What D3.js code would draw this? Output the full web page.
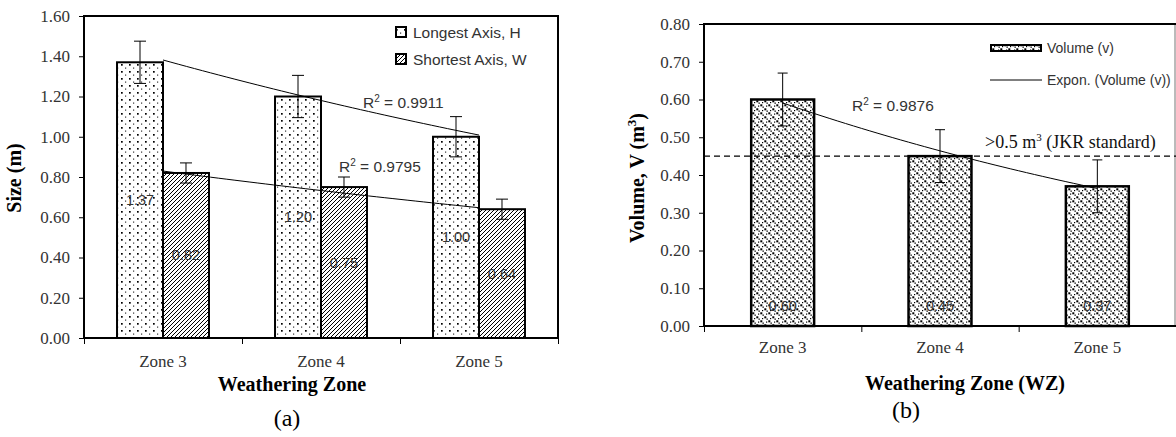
<!doctype html>
<html>
<head>
<meta charset="utf-8">
<title>Block size by weathering zone</title>
<script src="https://d3js.org/d3.v7.min.js"></script>
<style>
  body { margin: 0; background: #fff; }
  .serif { font-family: "Liberation Serif", "Times New Roman", serif; }
  .sans { font-family: "Liberation Sans", Arial, sans-serif; }
</style>
</head>
<body>
<div id="chart"></div>
<script>
// ---- data ----
const zones = ["Zone 3", "Zone 4", "Zone 5"]
const longestAxis = [1.37, 1.20, 1.00]
const longestErr = [0.105, 0.105, 0.10]
const shortestAxis = [0.82, 0.75, 0.64]
const shortestErr = [0.05, 0.05, 0.05]
const sizeR2 = ["0.9911", "0.9795"]
const volume = [0.60, 0.45, 0.37]
const volumeErr = [0.07, 0.07, 0.07]
const volumeR2 = "0.9876"
const jkrLevel = 0.45

const W = 1176, H = 437
const svg = d3.select('#chart').append('svg')
    .attr('width', W).attr('height', H)

// patterns
const defs = svg.append('defs')
const pDots = defs.append('pattern').attr('id', 'dotsH')
    .attr('patternUnits', 'userSpaceOnUse').attr('width', 8).attr('height', 7)
pDots.append('rect').attr('width', 8).attr('height', 7).attr('fill', '#fff')
pDots.append('rect').attr('x', 1).attr('y', 1).attr('width', 1.7).attr('height', 1.7).attr('fill', '#000')
pDots.append('rect').attr('x', 5).attr('y', 4.5).attr('width', 1.2).attr('height', 1.2).attr('fill', '#333')

const pHatch = defs.append('pattern').attr('id', 'hatchW')
    .attr('patternUnits', 'userSpaceOnUse').attr('width', 4).attr('height', 4)
pHatch.append('rect').attr('width', 4).attr('height', 4).attr('fill', '#fff')
pHatch.append('path').attr('d', 'M-1,1 l2,-2 M0,4 l4,-4 M3,5 l2,-2')
    .attr('stroke', '#000').attr('stroke-width', 1)

const pConf = defs.append('pattern').attr('id', 'dotsV')
    .attr('patternUnits', 'userSpaceOnUse').attr('width', 8).attr('height', 8)
pConf.append('rect').attr('width', 8).attr('height', 8).attr('fill', '#fff')
;[[0.3, 0.3, 2], [4.3, 4.3, 2], [2.5, 2.5, 1.3], [6.5, 6.5, 1.3], [6, 1.5, 1.2], [2, 6, 1.2]].forEach(d => {
    pConf.append('rect').attr('x', d[0]).attr('y', d[1]).attr('width', d[2]).attr('height', d[2]).attr('fill', '#000')
})

// exponential fit y = a*e^(b*x), x = 1..n
const expFit = ys => {
    const xs = ys.map((d, i) => i + 1)
    const ls = ys.map(Math.log)
    const mx = d3.mean(xs), ml = d3.mean(ls)
    const b = d3.sum(xs, (x, i) => (x - mx) * (ls[i] - ml)) / d3.sum(xs, x => (x - mx) ** 2)
    const a = Math.exp(ml - b * mx)
    return x => a * Math.exp(b * x)
}

const trend = (g, x0, y, ys) => {
    const f = expFit(ys)
    const pos = d3.scaleLinear().domain([1, ys.length])
        .range([x0(zones[0]) + x0.bandwidth() / 2, x0(zones[ys.length - 1]) + x0.bandwidth() / 2])
    const pts = d3.range(1, ys.length + 0.001, 0.05).map(t => [pos(t), y(f(t))])
    g.append('path').attr('d', d3.line()(pts))
        .attr('fill', 'none').attr('stroke', '#000').attr('stroke-width', 1)
}

const errBar = (g, cx, y, v, e, cap) => {
    g.append('line').attr('x1', cx).attr('x2', cx).attr('y1', y(v + e)).attr('y2', y(v - e))
        .attr('stroke', '#000')
    ;[v + e, v - e].forEach(t => g.append('line').attr('x1', cx - cap).attr('x2', cx + cap)
        .attr('y1', y(t)).attr('y2', y(t)).attr('stroke', '#000'))
}

const serifFont = '"Liberation Serif", "Times New Roman", serif'
const styleAxis = (g, size) => {
    g.selectAll('path.domain').remove()
    g.selectAll('line').attr('stroke', '#000')
    g.attr('font-family', serifFont)
    g.selectAll('text').style('font-family', serifFont).attr('font-size', size).attr('fill', '#333')
}

// ================= panel (a) =================
{
    const L = 84, R = 558, T = 16, B = 338
    const x0 = d3.scaleBand().domain(zones).range([L, R]).paddingInner(0.418).paddingOuter(0.209)
    const x1 = d3.scaleBand().domain(['H', 'W']).range([0, x0.bandwidth()])
    const y = d3.scaleLinear().domain([0, 1.6]).range([B, T])
    const g = svg.append('g')

    g.append('g').attr('transform', `translate(${L},0)`)
        .call(d3.axisLeft(y).tickValues(d3.range(0, 1.61, 0.2)).tickFormat(d3.format('.2f')).tickSize(5).tickPadding(9))
        .call(a => styleAxis(a, 17))

    const xb = d3.scaleLinear().domain([0, 3]).range([L, R])
    g.append('g').attr('transform', `translate(0,${B})`)
        .call(d3.axisBottom(xb).ticks(3).tickFormat('').tickSize(6))
        .call(a => styleAxis(a, 16))
    g.append('g').attr('transform', `translate(0,${B})`)
        .call(d3.axisBottom(x0).tickSize(0).tickPadding(17))
        .call(a => styleAxis(a, 17))

    const series = [
        { key: 'H', vals: longestAxis, err: longestErr, fill: 'url(#dotsH)' },
        { key: 'W', vals: shortestAxis, err: shortestErr, fill: 'url(#hatchW)' }
    ]
    series.forEach(s => {
        g.selectAll(null).data(zones).join('rect')
            .attr('x', z => x0(z) + x1(s.key)).attr('width', x1.bandwidth())
            .attr('y', (z, i) => y(s.vals[i])).attr('height', (z, i) => B - y(s.vals[i]))
            .attr('fill', s.fill).attr('stroke', '#000').attr('stroke-width', 2)
    })
    series.forEach(s => trend(g, x0, y, s.vals))
    series.forEach(s => zones.forEach((z, i) =>
        errBar(g, x0(z) + x1(s.key) + x1.bandwidth() / 2, y, s.vals[i], s.err[i], 6)))
    series.forEach(s => {
        g.selectAll(null).data(zones).join('text')
            .attr('class', 'sans').attr('font-size', 14.5).attr('fill', '#333')
            .attr('text-anchor', 'middle').attr('dominant-baseline', 'central')
            .attr('x', z => x0(z) + x1(s.key) + x1.bandwidth() / 2)
            .attr('y', (z, i) => y(s.vals[i] / 2))
            .text((z, i) => s.vals[i].toFixed(2))
    })

    g.append('rect').attr('x', L).attr('y', T).attr('width', R - L).attr('height', B - T)
        .attr('fill', 'none').attr('stroke', '#000').attr('stroke-width', 2)

    // R² labels
    const r2 = [[363, 108, sizeR2[0]], [339, 172, sizeR2[1]]]
    r2.forEach(d => {
        const t = g.append('text').attr('class', 'sans').attr('font-size', 15.5).attr('fill', '#333')
            .attr('x', d[0]).attr('y', d[1])
        t.append('tspan').text('R')
        t.append('tspan').attr('font-size', 10).attr('dy', -6).text('2')
        t.append('tspan').attr('dy', 6).text(' = ' + d[2])
    })

    // legend
    const leg = g.append('g').attr('transform', 'translate(395,0)')
    ;[['Longest Axis, H', 'url(#dotsH)', 32], ['Shortest Axis, W', 'url(#hatchW)', 59]].forEach(d => {
        leg.append('rect').attr('x', 1).attr('y', d[2] - 5).attr('width', 10).attr('height', 10)
            .attr('fill', d[1]).attr('stroke', '#000').attr('stroke-width', 2)
        leg.append('text').attr('class', 'sans').attr('font-size', 15.5).attr('fill', '#333')
            .attr('x', 18).attr('y', d[2]).attr('dominant-baseline', 'central').text(d[0])
    })

    g.append('text').attr('class', 'serif').attr('font-weight', 'bold').attr('font-size', 20)
        .attr('text-anchor', 'middle').attr('x', 292).attr('y', 391).text('Weathering Zone')
    g.append('text').attr('class', 'serif').attr('font-weight', 'bold').attr('font-size', 20)
        .attr('text-anchor', 'middle').attr('transform', 'translate(21,178) rotate(-90)').text('Size (m)')
    g.append('text').attr('class', 'serif').attr('font-size', 24)
        .attr('text-anchor', 'middle').attr('x', 287).attr('y', 426).text('(a)')
}

// ================= panel (b) =================
{
    const L = 704, R = 1176, T = 24, B = 326
    const x0 = d3.scaleBand().domain(zones).range([L, R]).paddingInner(0.6).paddingOuter(0.3)
    const y = d3.scaleLinear().domain([0, 0.8]).range([B, T])
    const g = svg.append('g')

    g.append('g').attr('transform', `translate(${L},0)`)
        .call(d3.axisLeft(y).tickValues(d3.range(0, 0.801, 0.1)).tickFormat(d3.format('.2f')).tickSize(5).tickPadding(9))
        .call(a => styleAxis(a, 17))

    const xb = d3.scaleLinear().domain([0, 3]).range([L, R])
    g.append('g').attr('transform', `translate(0,${B})`)
        .call(d3.axisBottom(xb).ticks(3).tickFormat('').tickSize(6))
        .call(a => styleAxis(a, 16))
    g.append('g').attr('transform', `translate(0,${B})`)
        .call(d3.axisBottom(x0).tickSize(0).tickPadding(15))
        .call(a => styleAxis(a, 17))

    // plot frame: thick left/top/bottom, thin right edge
    g.append('line').attr('x1', R - 1).attr('x2', R - 1).attr('y1', T).attr('y2', B)
        .attr('stroke', '#777').attr('stroke-width', 1)

    g.selectAll(null).data(zones).join('rect')
        .attr('x', z => x0(z)).attr('width', x0.bandwidth())
        .attr('y', (z, i) => y(volume[i])).attr('height', (z, i) => B - y(volume[i]))
        .attr('fill', 'url(#dotsV)').attr('stroke', '#000').attr('stroke-width', 2.5)

    g.append('line').attr('x1', L).attr('x2', R).attr('y1', y(jkrLevel)).attr('y2', y(jkrLevel))
        .attr('stroke', '#000').attr('stroke-width', 1.2).attr('stroke-dasharray', '6,4')

    trend(g, x0, y, volume)
    zones.forEach((z, i) => errBar(g, x0(z) + x0.bandwidth() / 2, y, volume[i], volumeErr[i], 5))

    g.selectAll(null).data(zones).join('text')
        .attr('class', 'sans').attr('font-size', 14.5).attr('fill', '#333')
        .attr('text-anchor', 'middle').attr('dominant-baseline', 'central')
        .attr('x', z => x0(z) + x0.bandwidth() / 2).attr('y', B - 20)
        .text((z, i) => volume[i].toFixed(2))

    g.append('path').attr('d', `M${L},${B}V${T}H${R}`).attr('fill', 'none')
        .attr('stroke', '#000').attr('stroke-width', 2)
    g.append('line').attr('x1', L).attr('x2', R).attr('y1', B).attr('y2', B)
        .attr('stroke', '#000').attr('stroke-width', 2)

    const t = g.append('text').attr('class', 'sans').attr('font-size', 15.5).attr('fill', '#333')
        .attr('x', 852).attr('y', 111)
    t.append('tspan').text('R')
    t.append('tspan').attr('font-size', 10).attr('dy', -6).text('2')
    t.append('tspan').attr('dy', 6).text(' = ' + volumeR2)

    const j = g.append('text').attr('class', 'serif').attr('font-size', 18).attr('fill', '#111')
        .attr('x', 985).attr('y', 148)
    j.append('tspan').text('>0.5 m')
    j.append('tspan').attr('font-size', 11).attr('dy', -7).text('3')
    j.append('tspan').attr('dy', 7).text(' (JKR standard)')

    // legend
    g.append('rect').attr('x', 991).attr('y', 45).attr('width', 50).attr('height', 6)
        .attr('fill', 'url(#dotsV)').attr('stroke', '#000').attr('stroke-width', 2)
    g.append('line').attr('x1', 990).attr('x2', 1042).attr('y1', 80).attr('y2', 80)
        .attr('stroke', '#000').attr('stroke-width', 1)
    ;[['Volume (v)', 48], ['Expon. (Volume (v))', 80]].forEach(d => {
        g.append('text').attr('class', 'sans').attr('font-size', 14).attr('fill', '#333')
            .attr('x', 1047).attr('y', d[1]).attr('dominant-baseline', 'central').text(d[0])
    })

    g.append('text').attr('class', 'serif').attr('font-weight', 'bold').attr('font-size', 20)
        .attr('text-anchor', 'middle').attr('x', 965).attr('y', 390).text('Weathering Zone (WZ)')
    const yt = g.append('text').attr('class', 'serif').attr('font-weight', 'bold').attr('font-size', 20)
        .attr('text-anchor', 'middle').attr('transform', 'translate(644,178) rotate(-90)')
    yt.append('tspan').text('Volume, V (m')
    yt.append('tspan').attr('font-size', 13).attr('dy', -8).text('3')
    yt.append('tspan').attr('dy', 8).text(')')
    g.append('text').attr('class', 'serif').attr('font-size', 24)
        .attr('text-anchor', 'middle').attr('x', 906).attr('y', 418).text('(b)')
}
</script>
</body>
</html>
